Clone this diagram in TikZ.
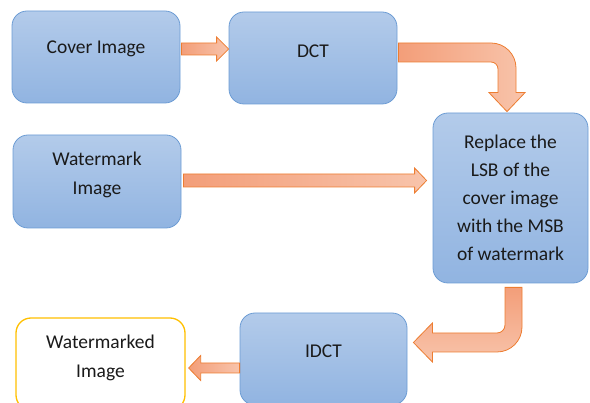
\documentclass[tikz,border=0pt]{standalone}
\usepackage{fontspec}
\setmainfont{Carlito}
\usetikzlibrary{calc}
\definecolor{boxtop}{HTML}{B3CBEA}
\definecolor{boxbot}{HTML}{91B4E1}
\definecolor{boxline}{HTML}{6C9CD4}
\definecolor{arrdark}{HTML}{F39E79}
\definecolor{arrlight}{HTML}{F8C4AB}
\definecolor{arrline}{HTML}{ED7D31}
\definecolor{gold}{HTML}{FFC000}
\definecolor{txt}{HTML}{1A1A1A}
\begin{document}
\begin{tikzpicture}[x=1pt,y=-1pt,
 box/.style={draw=boxline,line width=0.8pt,rounded corners=15pt,top color=boxtop,bottom color=boxbot,inner sep=0pt,minimum width=168pt,minimum height=92pt},
 outbox/.style={draw=gold,line width=1.3pt,rounded corners=15pt,fill=white,inner sep=0pt,minimum width=169pt,minimum height=92pt},
 lbl/.style={font=\fontsize{19.5}{29}\selectfont,text=txt,align=center,inner sep=0pt,anchor=base},
 barrowH/.style={draw=arrline,line width=0.8pt,left color=arrdark,right color=arrlight,line join=miter},
 barrowV/.style={draw=arrline,line width=0.8pt,top color=arrdark,bottom color=arrlight,line join=miter}]
\useasboundingbox (0,0) rectangle (590,403);
% boxes
\node[box] (cover) at (96,57) {};
\node[box] (dct) at (313,58) {};
\node[box,minimum height=93pt] (wm) at (97,181.5) {};
\node[box,minimum width=155pt,minimum height=170pt] (replace) at (510.5,198) {};
\node[box,minimum width=167pt] (idct) at (323.5,359) {};
\node[outbox] (wmd) at (100.5,364) {};
% labels (anchor base = baseline of last line)
\node[lbl] (tcover) at (96,54) {Cover Image};
\node[lbl] (tdct) at (313,58) {DCT};
\node[lbl] (twm) at (97,195) {Watermark\\Image};
\node[lbl,font=\fontsize{19.5}{28}\selectfont] (treplace) at (510.5,261) {Replace the\\LSB of the\\cover image\\with the MSB\\of watermark};
\node[lbl] (tidct) at (323.5,358) {IDCT};
\node[lbl] (twmd) at (100.5,378) {Watermarked\\Image};
% arrow 1: cover -> dct
\coordinate (a1s) at ($(cover.east)+(1,-8)$);
\coordinate (a1t) at ($(dct.west)+(0,-9)$);
\path[barrowH] ($(a1s)+(0,-6)$) -- ($(a1t)+(-12,-6)$) -- ($(a1t)+(-12,-12)$) -- (a1t) -- ($(a1t)+(-12,12)$) -- ($(a1t)+(-12,6)$) -- ($(a1s)+(0,6)$) -- cycle;
% arrow 3: watermark -> replace
\coordinate (a3s) at ($(wm.east)+(2,-1)$);
\coordinate (a3t) at ($(replace.west)+(-6,-17.5)$);
\path[barrowH] ($(a3s)+(0,-6.5)$) -- ($(a3t)+(-12,-6.5)$) -- ($(a3t)+(-12,-12.5)$) -- (a3t) -- ($(a3t)+(-12,12.5)$) -- ($(a3t)+(-12,6.5)$) -- ($(a3s)+(0,6.5)$) -- cycle;
% arrow 5: idct -> watermarked
\coordinate (a5s) at ($(idct.west)+(0,9)$);
\coordinate (a5t) at ($(wmd.east)+(3,4)$);
\path[barrowH] ($(a5s)+(0,-5)$) -- ($(a5t)+(12,-5)$) -- ($(a5t)+(12,-12.5)$) -- (a5t) -- ($(a5t)+(12,12.5)$) -- ($(a5t)+(12,5)$) -- ($(a5s)+(0,5)$) -- cycle;
% arrow 2: dct -> replace (bent)
\coordinate (s2) at ($(dct.east)+(1,-5.5)$);
\coordinate (t2) at ($(replace.north)+(-3.5,-1)$);
\coordinate (c2) at (t2 |- s2);
\path[barrowH] ($(s2)+(0,-9.5)$) -- ($(c2)+(-16,-9.5)$) arc[start angle=90,end angle=0,radius=25pt]
  -- ($(t2)+(9,-19)$) -- ($(t2)+(18,-19)$) -- (t2) -- ($(t2)+(-18,-19)$) -- ($(t2)+(-9,-19)$)
  -- ($(c2)+(-9,16.5)$) arc[start angle=0,end angle=90,radius=7pt] -- ($(s2)+(0,9.5)$) -- cycle;
% arrow 4: replace -> idct (bent)
\coordinate (s4) at ($(replace.south)+(3,4)$);
\coordinate (t4) at ($(idct.east)+(6,-16.5)$);
\coordinate (c4) at (s4 |- t4);
\path[barrowV] ($(s4)+(-8.5,0)$) -- ($(s4)+(8.5,0)$) -- ($(c4)+(8.5,-15.5)$) arc[start angle=0,end angle=-90,radius=25pt]
  -- ($(t4)+(19,9.5)$) -- ($(t4)+(19,19.5)$) -- (t4) -- ($(t4)+(19,-19.5)$) -- ($(t4)+(19,-9.5)$)
  -- ($(c4)+(-16.5,-9.5)$) arc[start angle=-90,end angle=0,radius=8pt] -- cycle;
\end{tikzpicture}
\end{document}
